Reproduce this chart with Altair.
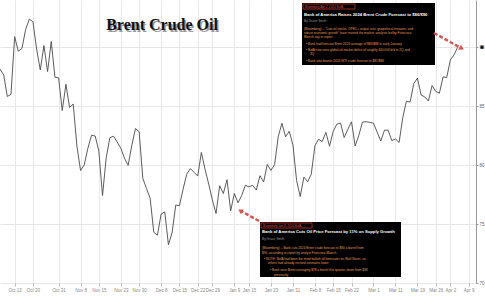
import altair as alt
import pandas as pd

# ---- data -------------------------------------------------------------
dates = [
    "2023-10-09", "2023-10-10", "2023-10-11", "2023-10-12", "2023-10-13",
    "2023-10-16", "2023-10-17", "2023-10-18", "2023-10-19", "2023-10-20",
    "2023-10-23", "2023-10-24", "2023-10-25", "2023-10-26", "2023-10-27",
    "2023-10-30", "2023-10-31", "2023-11-01", "2023-11-02", "2023-11-03",
    "2023-11-06", "2023-11-07", "2023-11-08", "2023-11-09", "2023-11-10",
    "2023-11-13", "2023-11-14", "2023-11-15", "2023-11-16", "2023-11-17",
    "2023-11-20", "2023-11-21", "2023-11-22", "2023-11-23", "2023-11-24",
    "2023-11-27", "2023-11-28", "2023-11-29", "2023-11-30", "2023-12-01",
    "2023-12-04", "2023-12-05", "2023-12-06", "2023-12-07", "2023-12-08",
    "2023-12-11", "2023-12-12", "2023-12-13", "2023-12-14", "2023-12-15",
    "2023-12-18", "2023-12-19", "2023-12-20", "2023-12-21", "2023-12-22",
    "2023-12-26", "2023-12-27", "2023-12-28", "2023-12-29", "2024-01-02",
    "2024-01-03", "2024-01-04", "2024-01-05", "2024-01-08", "2024-01-09",
    "2024-01-10", "2024-01-11", "2024-01-12", "2024-01-15", "2024-01-16",
    "2024-01-17", "2024-01-18", "2024-01-19", "2024-01-22", "2024-01-23",
    "2024-01-24", "2024-01-25", "2024-01-26", "2024-01-29", "2024-01-30",
    "2024-01-31", "2024-02-01", "2024-02-02", "2024-02-05", "2024-02-06",
    "2024-02-07", "2024-02-08", "2024-02-09", "2024-02-12", "2024-02-13",
    "2024-02-14", "2024-02-15", "2024-02-16", "2024-02-19", "2024-02-20",
    "2024-02-21", "2024-02-22", "2024-02-23", "2024-02-26", "2024-02-27",
    "2024-02-28", "2024-02-29", "2024-03-01", "2024-03-04", "2024-03-05",
    "2024-03-06", "2024-03-07", "2024-03-08", "2024-03-11", "2024-03-12",
    "2024-03-13", "2024-03-14", "2024-03-15", "2024-03-18", "2024-03-19",
    "2024-03-20", "2024-03-21", "2024-03-22", "2024-03-25", "2024-03-26",
    "2024-03-27", "2024-03-28", "2024-04-01", "2024-04-02", "2024-04-03",
    "2024-04-04",
]
brent = [
    88.15, 87.65, 85.82, 86.00, 90.89, 89.65, 89.90, 91.50, 92.38, 92.16,
    89.83, 88.07, 90.13, 87.93, 90.48, 87.45, 87.41, 84.63, 86.85, 84.89,
    85.18, 81.61, 79.54, 80.01, 81.43, 82.52, 82.47, 81.18, 77.42, 80.61,
    82.32, 82.45, 81.96, 81.42, 80.58, 79.98, 81.68, 83.10, 82.83, 78.88,
    78.03, 77.20, 74.30, 74.05, 75.84, 76.03, 73.24, 74.26, 76.61, 76.55,
    77.95, 79.23, 79.70, 79.39, 79.07, 81.07, 79.65, 78.39, 77.04, 75.89,
    78.25, 77.59, 78.76, 76.12, 77.59, 76.80, 77.41, 78.29, 78.15, 78.29,
    77.88, 79.10, 78.56, 80.06, 79.55, 80.04, 82.43, 83.55, 82.40, 82.87,
    81.71, 78.70, 77.33, 78.99, 78.59, 79.21, 81.63, 82.19, 82.00, 82.77,
    81.60, 82.86, 83.47, 83.56, 82.34, 83.03, 83.67, 81.62, 82.53, 83.65,
    83.68, 83.62, 83.55, 82.80, 82.04, 82.96, 82.96, 82.08, 82.21, 81.92,
    84.03, 85.42, 85.34, 86.89, 87.38, 85.95, 85.78, 85.43, 86.75, 86.25,
    86.09, 87.48, 87.42, 88.92, 89.35, 90.00,
]
future_dates = ["2024-04-05", "2024-04-08", "2024-04-09", "2024-04-10"]
tick_dates = [
    "2023-10-13", "2023-10-20", "2023-10-31", "2023-11-08", "2023-11-15",
    "2023-11-23", "2023-11-30", "2023-12-08", "2023-12-15", "2023-12-22",
    "2023-12-29", "2024-01-09", "2024-01-15", "2024-01-23", "2024-01-31",
    "2024-02-08", "2024-02-15", "2024-02-22", "2024-03-01", "2024-03-11",
    "2024-03-19", "2024-03-26", "2024-04-02", "2024-04-09",
]
y_ticks = [70, 75, 80, 85, 90]

# ---- build table -------------------------------------------------------
all_dates = dates + future_dates
labels = [pd.Timestamp(d).strftime("%b %-d") for d in all_dates]
df = pd.DataFrame({"i": list(range(len(dates))), "date": dates, "brent": brent})
tick_idx = [all_dates.index(d) for d in tick_dates]
label_expr = "[" + ",".join("'%s'" % s for s in labels) + "][datum.value]"

W, H = 476, 283
x_enc = alt.X("i:Q", scale=alt.Scale(domain=[0, len(all_dates)], nice=False, zero=False),
              axis=alt.Axis(values=tick_idx, labelExpr=label_expr, title=None,
                            grid=True, gridColor="#e9e9e9", domain=False,
                            tickColor="#bbb", tickSize=3, labelFontSize=4.5,
                            labelColor="#888", labelPadding=1, labelFont="Liberation Sans"))
y_enc = alt.Y("brent:Q", scale=alt.Scale(domain=[70, 94], nice=False, zero=False),
              axis=alt.Axis(orient="right", values=y_ticks, title=None, grid=True,
                            gridColor="#e6e6e6", domainColor="#999", tickSize=2,
                            tickColor="#999", labelFontSize=4.5, labelColor="#666",
                            labelPadding=1, labelFont="Liberation Sans"))

line = alt.Chart(df).mark_line(color="#4a4a4a", strokeWidth=0.9).encode(x=x_enc, y=y_enc)

last = alt.Chart(df.tail(1)).mark_point(filled=True, color="#111", size=12, opacity=1).encode(
    x=alt.value(W + 6), y=alt.Y("brent:Q"))


def note(text, x, y, size=4, color="#e8a36a", weight="normal", align="left", font="Liberation Sans"):
    return alt.Chart(df.head(1)).mark_text(
        text=text, fontSize=size, color=color, fontWeight=weight, align=align,
        baseline="middle", font=font).encode(x=alt.value(x), y=alt.value(y))


def box(x1, x2, y1, y2, fill="#000", stroke=None):
    kw = dict(fill=fill)
    if stroke:
        kw.update(stroke=stroke, strokeWidth=0.8, fillOpacity=1)
    return alt.Chart(df.head(1)).mark_rect(**kw).encode(
        x=alt.value(x1), x2=alt.value(x2), y=alt.value(y1), y2=alt.value(y2))


def arrow(x1, y1, x2, y2, angle):
    shaft = alt.Chart(df.head(1)).mark_rule(color="#d9534f", strokeWidth=2.4, strokeDash=[4, 2]).encode(
        x=alt.value(x1), y=alt.value(y1), x2=alt.value(x2), y2=alt.value(y2))
    head = alt.Chart(df.head(1)).mark_point(shape="triangle", filled=True, color="#d9534f",
                                            size=30, angle=angle, opacity=1).encode(
        x=alt.value(x2), y=alt.value(y2))
    return shaft + head


title_shadow = note("Brent Crude Oil", 163.5, 26.5, size=16, color="#9a9a9a", weight="bold",
                    align="center", font="Liberation Serif")
title = note("Brent Crude Oil", 162, 25, size=16, color="#111", weight="bold",
             align="center", font="Liberation Serif")

body = "#e39a5c"
box1 = [
    box(302, 435, 3, 65),
    box(303, 355, 4, 9, fill="#000", stroke="#c0392b"),
    note("Bloomberg  Apr 2, 2024  BofA", 305, 6.5, size=3, color="#d05050"),
    note("Bank of America Raises 2024 Brent Crude Forecast to $86/$90", 304, 15, size=4.2,
         color="#ffffff", weight="bold"),
    note("By Grace Smith", 304, 20.5, size=3.2, color="#999"),
    note("(Bloomberg) -- \u201cLow oil stocks, OPEC+ output cuts, geopolitical tensions, and", 304, 29, size=3.2, color=body),
    note("robust economic growth\u201d have revived the market, analysts led by Francisco", 304, 33, size=3.2, color=body),
    note("Blanch say in report.", 304, 37, size=3.2, color=body),
    note("\u2022  Bank had forecast Brent 2024 average of $80/$88 in early January", 306, 44, size=3.2, color=body),
    note("\u2022  BofA now sees global oil market deficit of roughly 400,000 b/d in 2Q and", 306, 50, size=3.2, color=body),
    note("3Q", 310, 54, size=3.2, color=body),
    note("\u2022  Bank also boosts 2024 WTI crude forecast to $81/$86", 306, 61, size=3.2, color=body),
]
box2 = [
    box(260, 401, 222, 277),
    box(261, 312, 223, 228, fill="#000", stroke="#c0392b"),
    note("Bloomberg  Jan 8, 2024  BofA", 263, 225.5, size=3, color="#d05050"),
    note("Bank of America Cuts Oil Price Forecast by 11% on Supply Growth", 262, 232, size=4.2,
         color="#ffffff", weight="bold"),
    note("By Grace Smith", 262, 238.5, size=3.2, color="#999"),
    note("(Bloomberg) -- Bank cuts 2024 Brent crude forecast to $80 a barrel from", 262, 248, size=3.2, color=body),
    note("$90, according to report by analyst Francisco Blanch.", 262, 252.5, size=3.2, color=body),
    note("\u2022  NOTE: BofA had been the most bullish oil forecaster on Wall Street, as", 264, 258.5, size=3.2, color=body),
    note("others had already revised estimates lower", 268, 263, size=3.2, color=body),
    note("\u2022  Bank sees Brent averaging $78 a barrel this quarter, down from $86", 270, 270, size=3.2, color=body),
    note("previously", 274, 274.5, size=3.2, color=body),
]

arrows = arrow(434, 33, 461, 48, 118) + arrow(259, 221, 241, 211, 300)

chart = alt.layer(line, last, title_shadow, title, *box1, *box2, arrows).properties(
    width=W, height=H,
    autosize=alt.AutoSizeParams(type="none"),
    padding={"left": 0, "top": 0, "right": 9, "bottom": 14},
    background="#ffffff",
).configure_view(stroke=None)

chart.save("out.html", embed_options={"renderer": "svg", "actions": False})
